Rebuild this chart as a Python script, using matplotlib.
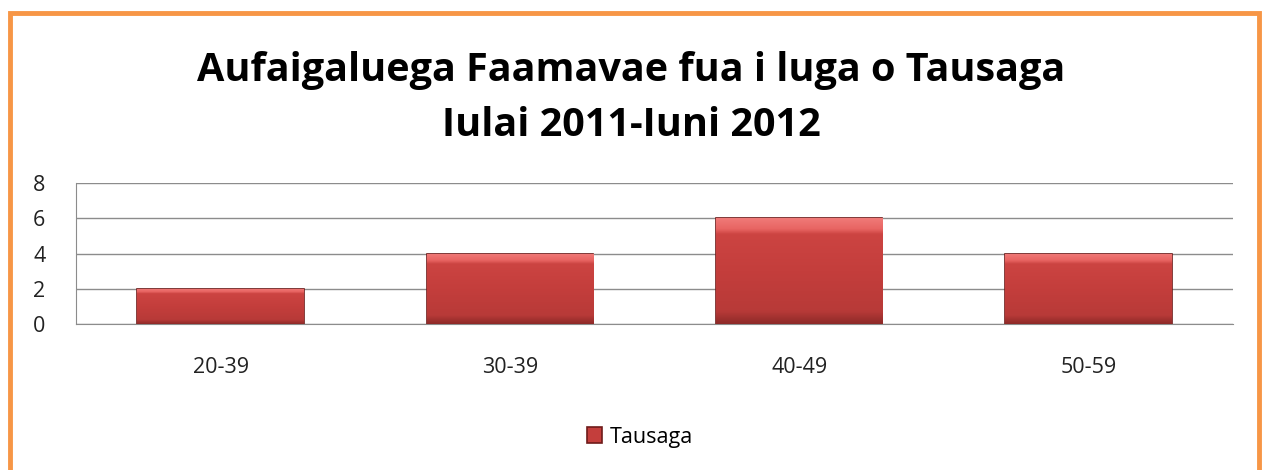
import numpy as np
import matplotlib.pyplot as plt
from matplotlib.patches import Rectangle
from matplotlib.colors import LinearSegmentedColormap

categories = ['20-39', '30-39', '40-49', '50-59']
values = [2, 4, 6, 4]
series_name = 'Tausaga'
title = 'Aufaigaluega Faamavae fua i luga o Tausaga\nIulai 2011-Iuni 2012'

plt.rcParams['font.family'] = ['Open Sans', 'DejaVu Sans']

W, H = 1263, 470
fig = plt.figure(figsize=(W / 100, H / 100), dpi=100)

# orange frame round the chart (bottom edge runs off the picture)
fig.patches.append(Rectangle((10 / W, -0.05), (1249 / W), 1 - 13 / H + 0.05,
                             transform=fig.transFigure, fill=False,
                             edgecolor='#F79646', linewidth=3.5))

ax = fig.add_axes([76 / W, 1 - 324 / H, (1233 - 76) / W, (324 - 183) / H])
x = np.arange(len(categories))
bars = ax.bar(x, values, width=0.575, color='#C43E3C', edgecolor='#6E1B1A',
              linewidth=1.2, label=series_name, zorder=3)

# bevel look: dark foot, flat red body, light strip along the top
bevel = LinearSegmentedColormap.from_list(
    'bev', [(0, '#8E2A28'), (0.12, '#B83A38'), (0.5, '#C43E3C'),
            (0.85, '#CC4442'), (0.9, '#E86462'), (1, '#F07A78')])
for b in bars:
    x0, y0 = b.get_x(), b.get_y()
    im = ax.imshow(np.linspace(0, 1, 200).reshape(-1, 1), cmap=bevel, aspect='auto',
                   origin='lower', extent=(x0, x0 + b.get_width(), y0, y0 + b.get_height()),
                   zorder=3.5)
    im.set_clip_path(b)

ax.set_xlim(-0.5, len(categories) - 0.5)
ax.set_ylim(0, 8)
ax.set_yticks([0, 2, 4, 6, 8])
ax.set_xticks(x)
ax.set_xticklabels(categories)
ax.grid(axis='y', color='#8C8C8C', linewidth=1, zorder=0)
for s in ['top', 'right']:
    ax.spines[s].set_visible(False)
ax.spines['left'].set_color('#8C8C8C')
ax.spines['bottom'].set_color('#8C8C8C')
ax.tick_params(axis='both', length=0, labelsize=15.5, colors='#222222')
ax.tick_params(axis='x', pad=24)
ax.tick_params(axis='y', pad=22)

fig.text(0.5, 1 - 98 / H, title, ha='center', va='center', fontsize=28.5,
         fontweight='bold', linespacing=1.5)

fig.legend(loc='center', bbox_to_anchor=(640 / W, 1 - 437 / H), frameon=False,
           fontsize=15.5, handlelength=0.7, handleheight=0.7, handletextpad=0.4)

fig.savefig('out.png', dpi=100, facecolor='white')
